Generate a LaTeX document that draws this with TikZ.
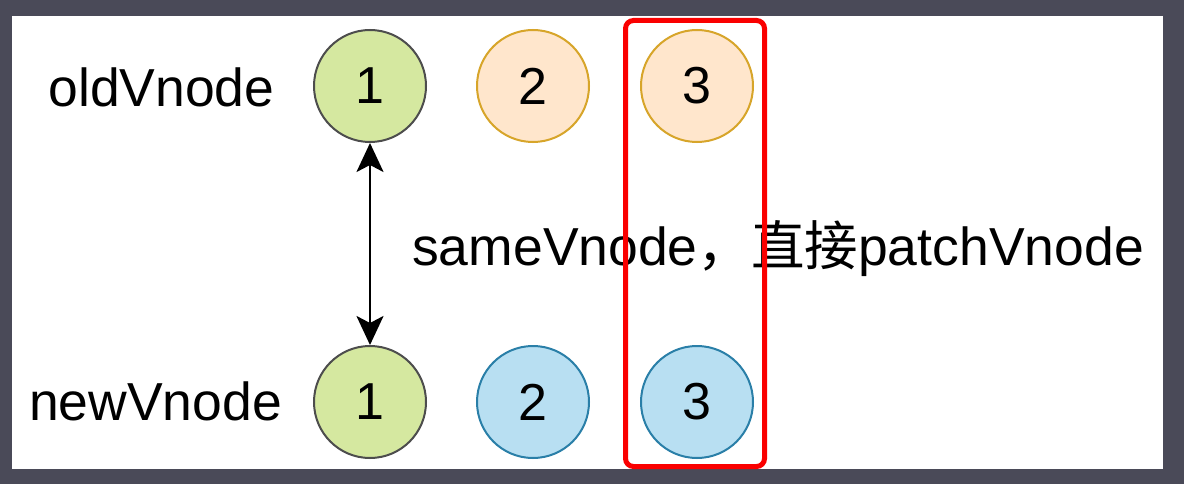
\documentclass[tikz,border=0pt]{standalone}
\usepackage{fontspec}
\setmainfont{Liberation Sans}
\newfontfamily\cjk{Noto Sans CJK SC}
\usetikzlibrary{arrows.meta}
\definecolor{frame}{RGB}{74,74,88}
\definecolor{gfill}{HTML}{D5E8A0}
\definecolor{gline}{HTML}{4D4D4D}
\definecolor{ofill}{HTML}{FFE6CC}
\definecolor{oline}{HTML}{D7A52A}
\definecolor{bfill}{HTML}{B8DFF2}
\definecolor{bline}{HTML}{2A7FA8}
\definecolor{redbox}{RGB}{250,0,0}
\tikzset{
  ball/.style={circle, minimum size=112pt, inner sep=0pt, line width=2pt, font=\fontsize{52}{52}\selectfont},
  greenball/.style={ball, draw=gline, fill=gfill},
  orangeball/.style={ball, draw=oline, fill=ofill},
  blueball/.style={ball, draw=bline, fill=bfill},
  label/.style={inner sep=0pt, font=\fontsize{53.5}{53.5}\selectfont, anchor=base},
  tip/.style={Stealth[length=29pt,width=27pt,inset=7pt]},
  link/.style={line width=2.5pt, {Stealth[length=29pt,width=27pt,inset=7pt]}-{Stealth[length=29pt,width=27pt,inset=7pt]}},
  hilite/.style={draw=redbox, line width=5pt, rounded corners=8pt}
}
\begin{document}
\begin{tikzpicture}[x=1pt,y=-1pt]
\fill[frame] (0,0) rectangle (1184,484);
\fill[white] (12,16) rectangle (1163,469);
\node[label] (oldlbl) at (161.5,107) {oldVnode};
\node[label] (newlbl) at (155.5,420) {newVnode};
\node[greenball] (o1) at (370,86) {1};
\node[orangeball] (o2) at (533,86) {2};
\node[orangeball] (o3) at (697,86) {3};
\node[greenball] (n1) at (370,402) {1};
\node[blueball] (n2) at (533,402) {2};
\node[blueball] (n3) at (697,402) {3};
\draw[link] (o1.south) -- (n1.north);
\node[label, anchor=base west] (msg) at (412,265) {sameVnode{\cjk ，直接}patchVnode};
\draw[hilite] (625.5,20.5) rectangle (764.5,466.5);
\end{tikzpicture}
\end{document}
